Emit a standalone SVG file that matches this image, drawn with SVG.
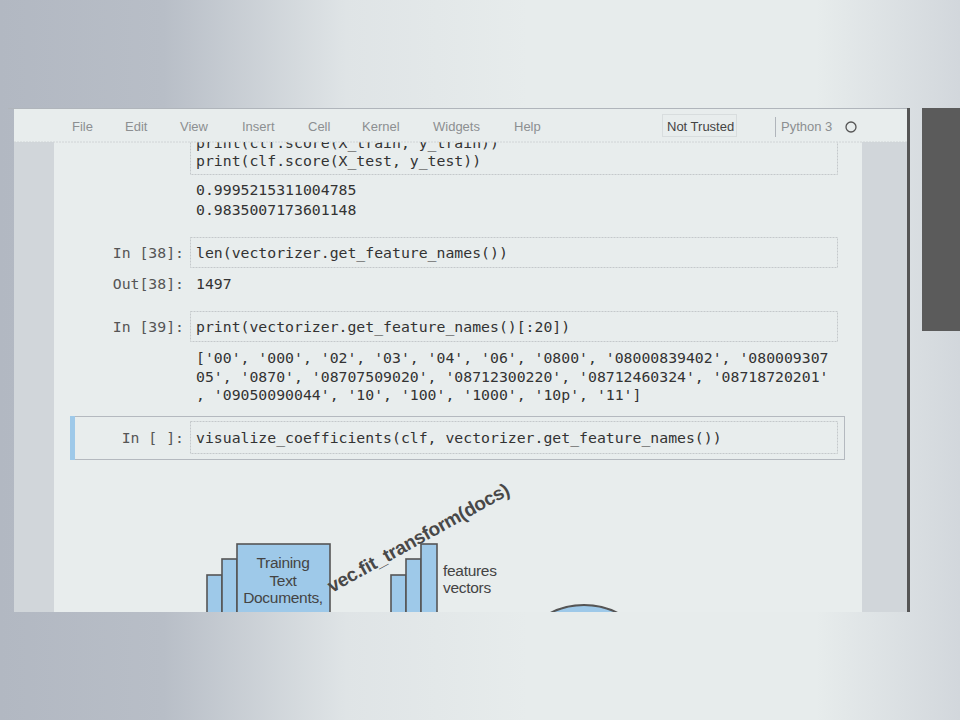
<svg xmlns="http://www.w3.org/2000/svg" width="960" height="720" viewBox="0 0 960 720">
<defs>
<linearGradient id="bg" x1="0" y1="0" x2="1" y2="0">
<stop offset="0" stop-color="#b2b8c2"/>
<stop offset="0.17" stop-color="#b8bec7"/>
<stop offset="0.36" stop-color="#dfe4e6"/>
<stop offset="0.55" stop-color="#e7ecec"/>
<stop offset="0.85" stop-color="#e7ecec"/>
<stop offset="1" stop-color="#d2d7dc"/>
</linearGradient>
<clipPath id="win"><rect x="14" y="142" width="893" height="470"/></clipPath>
<style>
.menu{font-family:"Liberation Sans",Arial,sans-serif;font-size:13px;fill:#8c8f91}
.code{font-family:"DejaVu Sans Mono",monospace;font-size:14.8px;fill:#333}
.prompt{font-family:"DejaVu Sans Mono",monospace;font-size:14.8px;fill:#555;text-anchor:end}
.box{fill:none;stroke:#c4c8cb;stroke-width:1;stroke-dasharray:2 1}
.bar{fill:#9ec9e9;stroke:#555;stroke-width:1.6}
.lbl{font-family:"Liberation Sans",Arial,sans-serif;font-size:15.5px;fill:#444;letter-spacing:-0.3px}
</style>
</defs>
<rect width="960" height="720" fill="url(#bg)"/>
<g id="window">
<rect x="14" y="108" width="893" height="504" fill="#e8eded"/>
<line x1="8" y1="108.5" x2="907" y2="108.5" stroke="#b0b5bb"/>
<rect x="14" y="142" width="40" height="470" fill="#d1d6da"/>
<rect x="862" y="142" width="45" height="470" fill="#d1d6da"/>
<rect x="907" y="108" width="3" height="504" fill="#555"/>
</g>
<g id="side-panel"><rect x="922" y="108" width="38" height="223" fill="#5b5b5b"/></g>
<g clip-path="url(#win)">
<g id="cell-score">
<rect class="box" x="190.5" y="130.5" width="647" height="44"/>
<text class="code" x="196" y="148">print(clf.score(X_train, y_train))</text>
<text class="code" x="196" y="166">print(clf.score(X_test, y_test))</text>
<text class="code" x="196" y="195">0.9995215311004785</text>
<text class="code" x="196" y="215">0.9835007173601148</text>
</g>
<g id="cell-38">
<rect class="box" x="190.5" y="237.5" width="647" height="30"/>
<text class="prompt" x="184" y="258">In [38]:</text>
<text class="code" x="196" y="258">len(vectorizer.get_feature_names())</text>
<text class="prompt" x="184" y="289">Out[38]:</text>
<text class="code" x="196" y="289">1497</text>
</g>
<g id="cell-39">
<rect class="box" x="190.5" y="311.5" width="647" height="30"/>
<text class="prompt" x="184" y="332">In [39]:</text>
<text class="code" x="196" y="332">print(vectorizer.get_feature_names()[:20])</text>
<text class="code" x="196" y="363">['00', '000', '02', '03', '04', '06', '0800', '08000839402', '080009307</text>
<text class="code" x="196" y="381.5">05', '0870', '08707509020', '08712300220', '08712460324', '08718720201'</text>
<text class="code" x="196" y="400">, '09050090044', '10', '100', '1000', '10p', '11']</text>
</g>
<g id="cell-selected">
<rect x="70.5" y="416.5" width="774" height="43" fill="none" stroke="#b4b9bf"/>
<rect x="70" y="416" width="5" height="44" fill="#9ec9e9"/>
<rect class="box" x="190.5" y="421.5" width="647" height="32"/>
<text class="prompt" x="184" y="443">In [ ]:</text>
<text class="code" x="196" y="443">visualize_coefficients(clf, vectorizer.get_feature_names())</text>
</g>
<g id="training-docs">
<rect class="bar" x="207" y="575" width="15" height="50"/>
<rect class="bar" x="222" y="559" width="15" height="66"/>
<rect class="bar" x="237" y="544" width="93" height="81"/>
<text class="lbl" x="283" y="568" text-anchor="middle">Training</text>
<text class="lbl" x="283" y="586" text-anchor="middle">Text</text>
<text class="lbl" x="283" y="603" text-anchor="middle">Documents,</text>
</g>
<g id="feature-vectors">
<rect class="bar" x="391" y="575" width="15" height="50"/>
<rect class="bar" x="406" y="559" width="15" height="66"/>
<rect class="bar" x="421" y="544" width="16" height="81"/>
<text class="lbl" x="443" y="576">features</text>
<text class="lbl" x="443" y="593">vectors</text>
</g>
<g id="connectors">
<text x="332" y="593" transform="rotate(-29 332 593)" font-family="Liberation Sans,Arial,sans-serif" font-size="19" font-weight="bold" fill="#484848" letter-spacing="-0.3">vec.fit_transform(docs)</text>
</g>
<g id="model">
<circle cx="584" cy="678" r="73" fill="#9ec9e9" stroke="#555" stroke-width="2"/>
</g>
</g>
<g id="menubar">
<rect x="14" y="109" width="893" height="33" fill="#e8eded"/>
<line x1="14" y1="142" x2="907" y2="142" stroke="#d0d4d6" stroke-dasharray="2 1"/>
<text class="menu" x="72" y="131">File</text>
<text class="menu" x="125" y="131">Edit</text>
<text class="menu" x="180" y="131">View</text>
<text class="menu" x="242" y="131">Insert</text>
<text class="menu" x="308" y="131">Cell</text>
<text class="menu" x="362" y="131">Kernel</text>
<text class="menu" x="433" y="131">Widgets</text>
<text class="menu" x="514" y="131">Help</text>
<rect x="662.5" y="114.5" width="74" height="22" fill="none" stroke="#c8cccf" stroke-dasharray="1 1"/>
<text class="menu" x="667" y="131" style="fill:#444">Not Trusted</text>
<line x1="775.5" y1="117" x2="775.5" y2="137" stroke="#b0b5bb"/>
<text class="menu" x="781" y="131">Python 3</text>
<circle cx="851" cy="127" r="5" fill="none" stroke="#555" stroke-width="1.3"/>
</g>
</svg>
